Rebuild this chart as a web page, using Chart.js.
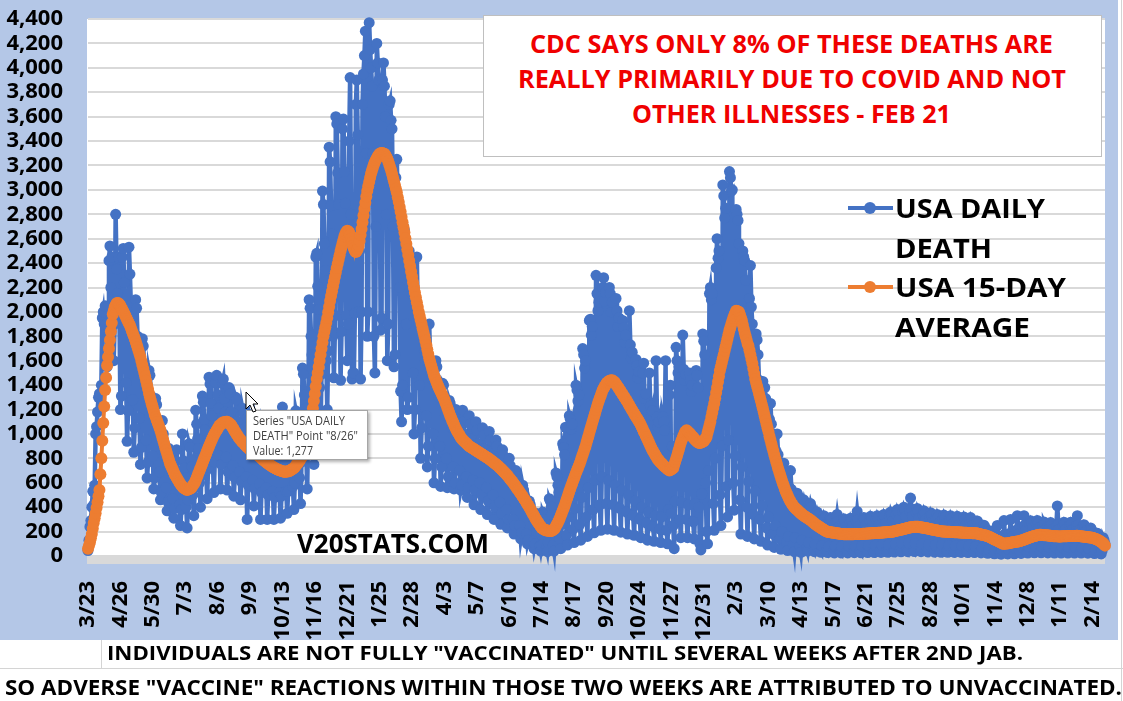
<!DOCTYPE html>
<html>
<head>
<meta charset="utf-8">
<title>USA daily deaths</title>
<script src="https://cdn.jsdelivr.net/npm/chart.js@4.4.0/dist/chart.umd.min.js"></script>
<style>
  html, body { margin: 0; padding: 0; }
  body { width: 1123px; height: 701px; position: relative; overflow: hidden; background: #fff; font-family: "Open Sans", sans-serif; }
  #panel { position: absolute; left: 0; top: 0; width: 1118px; height: 640px; background: #b4c7e7; }
  #chart { position: absolute; left: 0; top: 0; }
  .t { position: absolute; white-space: nowrap; font-weight: 700; line-height: 1; transform-origin: 0 50%; color: #000; }
  .red { color: #f00000; }
  .tip { font-weight: 400; color: #404040; }
  #note { position: absolute; left: 483px; top: 15px; width: 619px; height: 142px; background: #fff; border: 1px solid #bfbfbf; box-sizing: border-box; }
  #tipbox { position: absolute; left: 246px; top: 410px; width: 122px; height: 50px; background: #fff; border: 1px solid #a6a6a6; box-sizing: border-box; box-shadow: 2px 2px 3px rgba(0,0,0,0.3); }
  .rule { position: absolute; background: #d4d4d4; }
</style>
</head>
<body>
<div id="panel"><canvas id="chart" width="1118" height="640"></canvas></div>

<div id="note"></div>
<span class="t red" style="font-size:25px" data-x="530" data-cy="44" data-w="523">CDC SAYS ONLY 8% OF THESE DEATHS ARE</span>
<span class="t red" style="font-size:25px" data-x="518" data-cy="79" data-w="548">REALLY PRIMARILY DUE TO COVID AND NOT</span>
<span class="t red" style="font-size:25px" data-x="632" data-cy="114" data-w="319">OTHER ILLNESSES - FEB 21</span>

<span class="t" style="font-size:27px" data-x="895" data-cy="208" data-w="150">USA DAILY</span>
<span class="t" style="font-size:27px" data-x="895" data-cy="248" data-w="97">DEATH</span>
<span class="t" style="font-size:27px" data-x="895" data-cy="287" data-w="171">USA 15-DAY</span>
<span class="t" style="font-size:27px" data-x="895" data-cy="327" data-w="135">AVERAGE</span>

<span class="t" style="font-size:27px" data-x="297" data-cy="543" data-w="192">V20STATS.COM</span>

<div id="tipbox"></div>
<span class="t tip" style="font-size:12px" data-x="253" data-cy="421" data-w="92">Series "USA DAILY</span>
<span class="t tip" style="font-size:12px" data-x="253" data-cy="436" data-w="105">DEATH" Point "8/26"</span>
<span class="t tip" style="font-size:12px" data-x="253" data-cy="451" data-w="60">Value: 1,277</span>

<svg style="position:absolute;left:0;top:0" width="1123" height="701">
  <line x1="848" y1="208" x2="893" y2="208" stroke="#4472c4" stroke-width="4"/>
  <circle cx="870" cy="208" r="6" fill="#4472c4"/>
  <line x1="848" y1="287" x2="893" y2="287" stroke="#ed7d31" stroke-width="4"/>
  <circle cx="870" cy="287" r="6" fill="#ed7d31"/>
  <polygon points="246,392 246,409 250,405 253,412 256,411 253,404 258,404" fill="#fff" stroke="#000" stroke-width="1"/>
</svg>

<div class="rule" style="left:0;top:668px;width:1123px;height:1px"></div>
<div class="rule" style="left:101px;top:640px;width:1px;height:28px"></div>
<div class="rule" style="left:1121px;top:0;width:1px;height:701px"></div>

<span class="t" style="font-size:20px" data-x="107" data-cy="654" data-w="916">INDIVIDUALS ARE NOT FULLY "VACCINATED" UNTIL SEVERAL WEEKS AFTER 2ND JAB.</span>
<span class="t" style="font-size:21px" data-x="5" data-cy="688" data-w="1117">SO ADVERSE "VACCINE" REACTIONS WITHIN THOSE TWO WEEKS ARE ATTRIBUTED TO UNVACCINATED.</span>

<script>
// x axis labels, one every 34 days starting 3/23/2020
const tickLabels = ['3/23','4/26','5/30','7/3','8/6','9/9','10/13','11/16','12/21','1/25','2/28',
  '4/3','5/7','6/10','7/14','8/17','9/20','10/24','11/27','12/31','2/3','3/10','4/13','5/17',
  '6/21','7/25','8/28','10/1','11/4','12/8','1/11','2/14'];
const TICK_STEP = 34;

// USA daily deaths, one value per day from 3/23/2020 (two weeks per row)
const dailyDeaths = [
  45,130,240,290,400,530,420, 580,1000,1060,1180,1300,1330,1200,
  1400,1950,2000,1900,2050,1900,1550, 1600,2420,2540,2200,2450,1950,1600,
  1900,2800,2350,2150,2450,1950,1200, 1310,2450,2520,2240,2050,1420,940,
  1190,2530,2310,2050,1880,1280,850, 1050,2100,2030,1800,1650,1130,750,
  890,1780,1720,1530,1400,950,640, 770,1520,1480,1310,1200,820,550,
  640,1290,1240,1100,1010,690,460, 520,1110,1000,890,820,560,370,
  440,880,850,750,690,470,310, 390,780,870,670,610,420,250,
  380,1000,780,720,640,400,230, 460,920,890,790,730,500,330,
  560,1195,1080,960,880,600,400, 660,1310,1260,1120,1030,700,470,
  730,1465,1410,1250,1150,780,520, 770,1420,1480,1320,1210,820,550,
  750,1415,1450,1290,1180,810,540, 690,1380,1330,1180,1080,740,490,
  640,1300,1277,1100,1010,690,460, 610,1210,1170,1040,950,650,300,
  580,1160,1120,990,910,620,410, 550,1090,1050,940,860,590,300,
  520,1040,1000,890,810,560,300, 500,990,960,850,780,530,300,
  480,970,930,830,760,520,310, 490,1220,950,850,780,530,350,
  530,1060,1030,910,840,570,380, 600,1190,1150,1020,940,640,430,
  770,1540,1490,1320,1210,830,550, 1050,2100,2030,1800,1650,1130,750,
  1290,2450,2480,2210,2020,1380,1030, 1490,2990,2880,2560,2340,1600,1200,
  1680,3350,3230,2870,2640,1800,1460, 1830,3600,3540,3140,2880,1970,1440,
  1840,3500,3580,3150,2890,1970,1600, 1900,3400,3920,2800,1450,1500,1500,
  1990,3700,3900,3450,2000,2500,1450, 2000,3700,3950,4100,4300,3300,1800,
  2000,4370,4150,4000,3850,3300,1800, 1500,2700,4200,4040,3900,3300,1850,
  1950,3900,4040,3850,3600,2800,1600, 1900,3700,3730,3570,3500,2700,1550,
  1650,3100,3250,2890,2900,2200,1350, 1100,1400,2700,2670,2500,1900,1200,
  1300,2500,2450,2400,2150,1500,1000, 1200,2100,2450,1980,1900,1400,800,
  1050,1900,1750,1680,1600,1150,730, 900,1900,1600,1500,1450,1000,600,
  800,1600,1550,1400,1300,900,570, 730,1415,1400,1250,1150,800,560,
  650,1275,1250,1120,1050,730,550, 600,1200,1150,1040,980,700,540,
  580,1195,1100,1000,950,650,480, 560,1150,1080,960,900,620,420,
  540,1100,1030,920,870,600,380, 500,1050,990,880,830,560,340,
  450,1020,950,850,800,500,300, 400,950,900,800,740,440,260,
  350,870,820,720,660,380,230, 300,800,740,650,600,300,180,
  250,700,650,560,520,250,140, 190,580,540,460,420,180,100,
  130,450,420,360,320,120,60, 100,350,330,290,250,80,40,
  90,360,340,300,250,70,35, 110,470,450,400,340,90,40,
  170,680,650,580,520,140,60, 260,920,890,830,1055,170,90,
  320,1150,1120,1040,1080,220,110, 390,1400,1360,1270,1320,260,130,
  480,1700,1650,1540,1600,320,160, 560,1930,1940,1810,1880,380,190,
  620,2300,2150,2010,2080,420,210, 650,2200,2280,2090,2160,430,220,
  620,2200,2150,2000,2080,420,210, 580,2110,2010,1880,1950,390,195,
  540,1930,1870,1750,1810,360,180, 500,2010,1730,1620,1670,330,170,
  450,1610,1560,1460,1510,300,150, 400,1500,1580,1290,1330,270,130,
  360,1500,1230,1150,1190,240,120, 330,1600,1140,1060,1100,220,110,
  320,1140,1100,1030,1600,210,100, 380,1320,1400,350,900,250,60,
  450,1710,1600,1500,1550,300,150, 440,1810,1530,1440,1490,300,150,
  420,1500,1440,1350,1400,280,140, 430,1520,1480,1380,400,100,50,
  510,1820,1760,1650,600,200,100, 700,2150,2200,2100,2150,430,210,
  800,2360,2600,2440,2500,500,250, 900,3040,2950,2770,2850,570,320,
  950,3150,3100,2990,3000,600,375, 820,2840,2800,2750,2560,460,180,
  730,2500,2450,2420,2260,400,160, 610,2110,2380,2040,1900,340,140,
  530,1820,1770,1650,1440,300,120, 410,1430,1250,1380,1290,230,90,
  320,1120,1250,1080,1000,180,70, 250,860,1000,830,770,140,55,
  200,680,760,650,610,110,45, 160,560,700,545,510,90,35,
  150,510,515,495,460,80,30, 130,430,460,430,390,70,40,
  110,390,430,400,340,50,35, 95,330,360,335,285,42,30,
  85,300,330,310,260,40,28, 80,290,315,300,250,35,25,
  80,280,340,285,240,35,25, 80,275,305,290,240,35,25,
  82,280,310,290,245,36,27, 82,285,365,295,245,37,26,
  84,290,315,300,250,37,28, 85,295,325,305,255,38,28,
  87,300,330,310,260,39,29, 90,310,340,320,270,40,30,
  95,325,360,335,285,42,32, 100,345,380,360,300,45,34,
  106,365,400,380,320,47,35, 108,370,475,385,325,48,36,
  104,355,390,370,310,46,35, 98,340,370,350,295,44,33,
  94,325,355,335,280,42,31, 90,310,340,320,270,40,30,
  89,305,335,315,265,39,30, 87,300,330,310,262,39,29,
  86,296,325,305,258,38,29, 85,290,320,300,254,38,28,
  83,287,315,296,250,37,28, 76,262,287,270,228,34,25,
  67,229,252,237,200,30,22, 54,186,204,192,162,24,18,
  45,157,250,162,136,20,15, 50,170,290,176,149,22,17,
  54,184,300,190,161,24,18, 62,212,330,219,185,27,21,
  71,243,330,251,212,31,24, 77,264,289,272,230,34,26,
  77,265,291,274,231,34,26, 74,254,279,262,221,33,25,
  72,250,274,258,217,32,24, 73,251,410,259,219,32,24,
  73,253,277,261,220,33,24, 73,253,277,261,220,33,24,
  71,245,330,253,213,32,24, 68,234,257,242,204,30,23,
  61,209,230,216,182,27,20, 50,170,187,176,149,22,17,
  45,150,130,100
];

// USA 15-day average deaths, same days
const avgDeaths = [
  60,85,110,145,180,225,270, 310,350,395,440,490,540,670,
  800,945,1090,1225,1360,1460,1560, 1630,1700,1770,1840,1910,1980,2010,
  2040,2055,2070,2072,2070,2062,2050, 2035,2020,2005,1990,1972,1955,1938,
  1922,1906,1890,1868,1846,1825,1803, 1782,1760,1734,1708,1682,1656,1630,
  1598,1566,1534,1502,1470,1436,1402, 1368,1334,1300,1272,1244,1216,1188,
  1160,1138,1117,1095,1073,1052,1030, 1002,974,946,918,890,864,838,
  812,786,760,742,724,706,688, 670,656,642,628,614,600,590,
  580,570,560,555,550,545,540, 544,548,551,555,566,578,589,
  600,620,640,660,680,700,720, 740,760,780,800,820,840,860,
  880,900,918,936,954,972,990, 1003,1017,1030,1043,1057,1070,1076,
  1082,1089,1095,1096,1098,1099,1100, 1094,1088,1081,1075,1062,1049,1036,
  1023,1010,998,985,973,960,952, 943,935,927,918,910,902,894,
  886,878,870,865,860,855,850, 845,839,833,827,821,815,808,
  801,794,787,780,774,768,762, 756,750,745,740,735,730,725,
  721,717,713,709,705,702,700, 697,695,692,690,691,692,693,
  694,695,700,705,710,715,720, 730,740,750,760,770,780,794,
  808,822,836,850,875,900,925, 950,1000,1050,1100,1150,1210,1270,
  1330,1390,1450,1500,1550,1600,1650, 1700,1750,1800,1838,1875,1912,1950,
  1997,2043,2090,2130,2170,2210,2250, 2287,2323,2360,2395,2430,2465,2500,
  2530,2560,2590,2620,2640,2655,2665, 2660,2650,2630,2600,2570,2540,2520,
  2500,2490,2500,2515,2540,2580,2630, 2680,2735,2790,2845,2895,2945,2990,
  3030,3065,3100,3135,3160,3185,3210, 3228,3245,3260,3275,3285,3295,3300,
  3302,3300,3298,3295,3285,3270,3255, 3235,3210,3185,3160,3130,3100,3070,
  3040,3010,2980,2940,2900,2860,2820, 2778,2735,2693,2650,2604,2558,2512,
  2466,2420,2376,2332,2288,2244,2200, 2160,2120,2080,2040,2000,1967,1933,
  1900,1867,1833,1800,1764,1728,1692, 1656,1620,1592,1564,1536,1508,1480,
  1460,1440,1420,1400,1380,1363,1347, 1330,1313,1297,1280,1258,1237,1215,
  1194,1172,1150,1132,1113,1095,1077, 1058,1040,1027,1013,1000,987,973,
  960,952,945,937,930,922,915, 907,900,895,890,885,880,875,
  870,865,860,855,850,845,840, 835,830,825,820,815,810,805,
  800,794,788,782,776,770,764, 758,752,746,740,732,724,716,
  708,700,692,684,676,668,660, 650,640,630,620,610,600,590,
  579,568,556,545,534,523,511, 500,488,475,463,450,438,425,
  413,400,386,371,357,343,329, 314,300,288,277,265,253,242,
  230,225,220,215,210,209,208, 207,206,205,205,209,214,220,
  230,245,260,275,290,310,330, 350,370,390,410,434,458,482,
  506,530,552,573,595,617,638, 660,680,700,720,740,760,783,
  807,830,853,877,900,927,954, 981,1009,1036,1063,1090,1117,1143,
  1170,1197,1223,1250,1272,1294,1316, 1338,1360,1374,1388,1401,1415,1422,
  1428,1435,1437,1438,1440,1433,1427, 1420,1408,1396,1384,1372,1360,1348,
  1336,1324,1311,1299,1287,1275,1261, 1248,1234,1221,1207,1194,1180,1167,
  1154,1141,1129,1116,1103,1090,1073, 1057,1040,1023,1007,990,973,956,
  939,921,904,887,870,857,843, 830,817,803,790,782,773,765,
  757,748,740,733,727,720,713, 707,700,705,710,715,720,745,
  770,795,820,848,875,903,930, 950,970,990,1010,1020,1030,1022,
  1015,1008,1000,990,980,970,960, 953,945,938,930,928,925,929,
  932,936,940,952,963,975,1007, 1038,1069,1100,1138,1175,1213,1250,
  1293,1337,1380,1427,1473,1520,1553, 1585,1618,1650,1683,1717,1750,1783,
  1817,1850,1875,1900,1925,1950,1970, 1990,2010,2007,2003,2000,1977,1953,
  1930,1895,1860,1830,1800,1770,1740, 1720,1685,1650,1615,1580,1537,1493,
  1450,1420,1390,1360,1330,1300,1270, 1240,1210,1177,1145,1112,1080,1047,
  1015,982,950,920,890,860,830, 802,775,748,720,695,670,645,
  620,597,575,552,530,512,495, 477,460,447,435,422,410,402,
  394,386,378,370,363,356,349, 342,335,330,325,320,315,310,
  305,300,294,288,281,275,269, 262,256,250,245,240,235,230,
  225,220,215,210,205,200,199, 197,196,195,193,192,191,190,
  189,187,186,185,184,182,180, 180,180,179,179,179,178,178,
  178,178,178,179,179,179,180, 180,180,180,180,180,180,181,
  181,182,182,183,183,184,184, 185,185,186,186,187,187,188,
  188,189,189,190,190,191,191, 192,193,193,194,195,195,196,
  197,197,198,199,199,200,202, 204,206,208,210,212,214,216,
  218,220,222,224,226,228,230, 232,234,235,236,237,238,239,
  239,240,240,239,237,236,235, 234,232,231,230,228,227,225,
  223,222,220,218,217,215,213, 212,210,209,207,205,204,202,
  201,200,200,200,199,199,199, 198,198,197,197,196,196,195,
  195,195,194,194,193,193,192, 192,191,191,190,190,190,189,
  189,189,188,188,187,187,186, 186,186,185,183,181,179,177,
  175,173,171,169,167,164,162, 160,156,152,148,144,140,136,
  132,128,124,120,116,112,108, 104,100,101,102,102,103,104,
  105,107,108,110,112,113,115, 116,117,118,119,120,123,126,
  128,131,134,137,140,143,146, 149,151,154,157,160,162,164,
  166,168,170,173,175,174,174, 173,172,171,171,170,169,168,
  167,166,165,164,163,162,162, 161,161,161,160,160,160,160,
  161,161,161,162,162,162,163, 163,163,163,163,164,164,164,
  164,165,165,164,163,162,161, 160,159,158,157,156,155,154,
  153,152,151,150,149,146,143, 140,137,135,130,125,120,115,
  110,102,94,85
];

const BLUE = '#4472c4';
const ORANGE = '#ed7d31';

function toPoints(values) {
  return values.map((v, i) => ({ x: i, y: v }));
}

// white plot area and the grey strip under the zero line
const plotBackground = {
  id: 'plotBackground',
  beforeDraw(chart) {
    const { ctx, chartArea: a } = chart;
    ctx.save();
    ctx.fillStyle = '#ffffff';
    ctx.fillRect(a.left - 1, a.top, a.right - a.left + 1, a.bottom - a.top);
    ctx.fillStyle = '#d9d9d9';
    ctx.fillRect(a.left - 1, a.bottom, a.right - a.left + 1, 8);
    ctx.restore();
  }
};

const tickFont = { family: 'Open Sans', size: 22, weight: 'bold' };

new Chart(document.getElementById('chart'), {
  type: 'line',
  data: {
    datasets: [
      {
        label: 'USA 15-DAY AVERAGE',
        data: toPoints(avgDeaths),
        borderColor: ORANGE,
        backgroundColor: ORANGE,
        borderWidth: 4,
        pointRadius: 6,
        pointBorderWidth: 0,
        clip: false,
        order: 0
      },
      {
        label: 'USA DAILY DEATH',
        data: toPoints(dailyDeaths),
        borderColor: BLUE,
        backgroundColor: BLUE,
        borderWidth: 4.5,
        pointRadius: 5.5,
        pointBorderWidth: 0,
        clip: false,
        order: 1
      }
    ]
  },
  options: {
    responsive: false,
    animation: false,
    layout: { padding: { top: 19, right: 13, left: 0, bottom: 0 } },
    plugins: {
      legend: { display: false },
      tooltip: { enabled: false }
    },
    scales: {
      x: {
        type: 'linear',
        min: 0,
        max: dailyDeaths.length - 1,
        afterBuildTicks: function(scale) {
          scale.ticks = tickLabels.map((t, k) => ({ value: k * TICK_STEP }));
        },
        afterFit: function(scale) {
          scale.height = 84;
          scale.paddingLeft = 0;
          scale.paddingRight = 0;
        },
        grid: { display: false },
        border: { display: false },
        ticks: {
          autoSkip: false,
          minRotation: 90,
          maxRotation: 90,
          padding: 17,
          color: '#000',
          font: tickFont,
          callback: function(value) {
            return tickLabels[Math.round(value / TICK_STEP)];
          }
        }
      },
      y: {
        min: 0,
        max: 4400,
        afterFit: function(scale) {
          scale.width = 88;
          scale.paddingTop = 0;
          scale.paddingBottom = 0;
        },
        grid: { color: '#d9d9d9', lineWidth: 2, drawTicks: false },
        border: { display: false },
        ticks: {
          autoSkip: false,
          stepSize: 200,
          padding: 25,
          color: '#000',
          font: tickFont,
          callback: function(value) {
            return value.toLocaleString('en-US');
          }
        }
      }
    }
  },
  plugins: [plotBackground]
});

// place overlay texts and squeeze them to the widths they take in the picture
function placeTexts() {
  document.querySelectorAll('.t').forEach(function(el) {
    const size = parseFloat(el.style.fontSize);
    el.style.left = el.dataset.x + 'px';
    el.style.top = (+el.dataset.cy - size * 0.53) + 'px';
    const natural = el.getBoundingClientRect().width;
    el.style.transform = 'scaleX(' + (+el.dataset.w / natural) + ')';
  });
}
placeTexts();
</script>
</body>
</html>
